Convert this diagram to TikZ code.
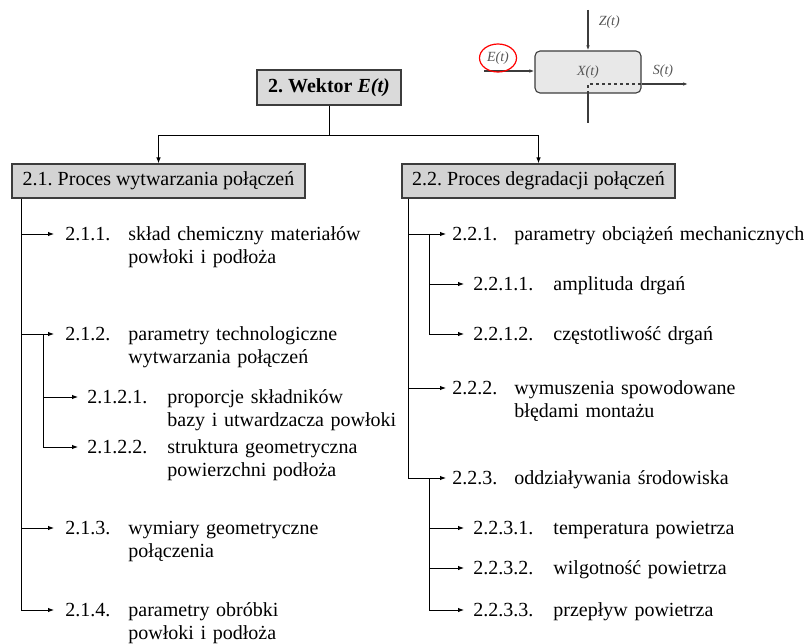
\documentclass[tikz,border=0pt]{standalone}
\usepackage{fontspec}
\setmainfont{Liberation Serif}
\usetikzlibrary{arrows.meta,shapes.geometric}

\definecolor{boxgray}{HTML}{D3D3D3}
\definecolor{rootgray}{HTML}{DADADA}
\definecolor{linegray}{HTML}{3C3C3C}
\definecolor{inkgray}{HTML}{555555}

\tikzset{
  arr/.style={-{Latex[length=6pt,width=4.5pt]}},
  sarr/.style={-{Latex[length=5pt,width=3.5pt]}},
  headbox/.style={draw=linegray, line width=1.2pt, fill=boxgray, minimum height=34pt, inner xsep=10pt},
  num/.style={anchor=west, inner sep=0pt},
  txt/.style={anchor=base west, inner sep=0pt, text width=290pt, align=left},
  small/.style={font=\fontsize{14}{16}\selectfont\itshape, text=inkgray},
  sysline/.style={draw=linegray, line width=1.1pt},
  sysbox/.style={sysline, fill=gray!18, rounded corners=5pt, minimum width=106pt, minimum height=42pt, small},
}

\begin{document}
\frenchspacing
\begin{tikzpicture}[x=1pt, y=-1pt, line width=0.9pt, font=\fontsize{20}{23.5}\selectfont\frenchspacing]
\useasboundingbox (0,0) rectangle (805,644);

\def\xtl{21}; % left trunk
\def\xsl{43}; % left sub trunk
\def\xtr{408}; % right trunk
\def\xsr{429}; % right sub trunk

\coordinate (tabL) at (128,0); % text, level 1 left
\coordinate (tabLL) at (167,0); % text, level 2 left
\coordinate (tabR) at (514,0); % text, level 1 right
\coordinate (tabRR) at (553,0); % text, level 2 right

% small block X(t)
\node[sysbox] (sys) at (588,72) {X(t)};
\coordinate (ztop) at (588,10);
\coordinate (zbot) at (588,123);
\coordinate (ein) at (484,71);
\coordinate (sout) at (688,84);
\draw[sysline, sarr] (ztop) -- (sys.north);
\node[small, anchor=west] (zlab) at (595,22) {Z(t)};
\draw[sysline, sarr] (ein) -- (ein -| sys.west);
\node[small, ellipse, draw=red, line width=1.2pt, minimum width=37pt, minimum height=28pt, inner sep=1pt] (elab) at (498,58) {E(t)};
\draw[sysline, dashed] (sys.south) -- (sys.south |- sout) -- (sout -| sys.east);
\draw[sysline, sarr] (sout -| sys.east) -- (sout);
\node[small] (slab) at (663,71) {S(t)};
\draw[sysline] (sys.south) -- (zbot);

% tree heads
\node[headbox, fill=rootgray, minimum width=144pt, minimum height=35pt] (root) at (329,87.5) {\textbf{2. Wektor \textit{E(t)}}};
\node[headbox, minimum width=293pt] (b21) at (158.5,181) {2.1. Proces wytwarzania połączeń};
\node[headbox, minimum width=273pt] (b22) at (538.5,181) {2.2. Proces degradacji połączeń};

\coordinate (fork) at (329,135);
\draw (root.south) -- (fork);
\draw[arr] (fork) -| (b21.north);
\draw[arr] (fork) -| (b22.north);

% left branch
\node[num] (n211) at (65,234) {2.1.1.};
\node[txt] (t211) at (n211.base -| tabL) {skład chemiczny materiałów\\powłoki i podłoża};
\node[num] (n212) at (65,334) {2.1.2.};
\node[txt] (t212) at (n212.base -| tabL) {parametry technologiczne\\wytwarzania połączeń};
\node[num] (n2121) at (87,397) {2.1.2.1.};
\node[txt] (t2121) at (n2121.base -| tabLL) {proporcje składników\\bazy i utwardzacza powłoki};
\node[num] (n2122) at (87,447) {2.1.2.2.};
\node[txt] (t2122) at (n2122.base -| tabLL) {struktura geometryczna\\powierzchni podłoża};
\node[num] (n213) at (65,528) {2.1.3.};
\node[txt] (t213) at (n213.base -| tabL) {wymiary geometryczne\\połączenia};
\node[num] (n214) at (65,610) {2.1.4.};
\node[txt] (t214) at (n214.base -| tabL) {parametry obróbki\\powłoki i podłoża};

\foreach \n in {211,212,213,214}
  \draw[arr, shorten >=11pt] (b21.south -| \xtl,0) |- (n\n.west);
\foreach \n in {2121,2122}
  \draw[arr, shorten >=9pt] (n212.west -| \xsl,0) |- (n\n.west);

% right branch
\node[num] (n221) at (452,234) {2.2.1.};
\node[txt] (t221) at (n221.base -| tabR) {parametry obciążeń mechanicznych};
\node[num] (n2211) at (473,284) {2.2.1.1.};
\node[txt] (t2211) at (n2211.base -| tabRR) {amplituda drgań};
\node[num] (n2212) at (473,334) {2.2.1.2.};
\node[txt] (t2212) at (n2212.base -| tabRR) {częstotliwość drgań};
\node[num] (n222) at (452,388) {2.2.2.};
\node[txt] (t222) at (n222.base -| tabR) {wymuszenia spowodowane\\błędami montażu};
\node[num] (n223) at (452,478) {2.2.3.};
\node[txt] (t223) at (n223.base -| tabR) {oddziaływania środowiska};
\node[num] (n2231) at (473,528) {2.2.3.1.};
\node[txt] (t2231) at (n2231.base -| tabRR) {temperatura powietrza};
\node[num] (n2232) at (473,568) {2.2.3.2.};
\node[txt] (t2232) at (n2232.base -| tabRR) {wilgotność powietrza};
\node[num] (n2233) at (473,610) {2.2.3.3.};
\node[txt] (t2233) at (n2233.base -| tabRR) {przepływ powietrza};

\foreach \n in {221,222,223}
  \draw[arr, shorten >=6pt] (b22.south -| \xtr,0) |- (n\n.west);
\foreach \n in {2211,2212}
  \draw[arr, shorten >=9pt] (n221.west -| \xsr,0) |- (n\n.west);
\foreach \n in {2231,2232,2233}
  \draw[arr, shorten >=9pt] (n223.west -| \xsr,0) |- (n\n.west);

\end{tikzpicture}
\end{document}
